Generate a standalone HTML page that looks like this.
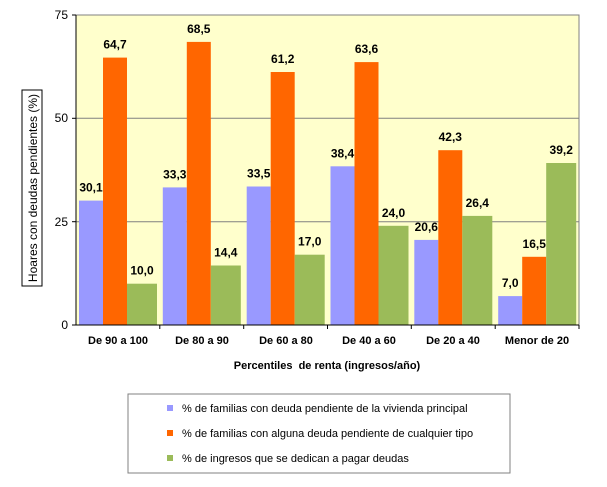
<!DOCTYPE html><html><head><style>body{margin:0;background:#fff;font-family:"Liberation Sans",sans-serif}</style></head><body>
<svg width="607" height="482" xmlns="http://www.w3.org/2000/svg" font-family="Liberation Sans, sans-serif">
<rect x="76" y="15" width="503" height="310" fill="#ffffcc"/>
<line x1="76" y1="118.3" x2="579" y2="118.3" stroke="#808080"/>
<line x1="76" y1="221.7" x2="579" y2="221.7" stroke="#808080"/>
<g>
<rect x="79" y="200.6" width="24" height="124.4" fill="#9999ff"/>
<rect x="103" y="57.6" width="24" height="267.4" fill="#ff6600"/>
<rect x="127" y="283.7" width="30" height="41.3" fill="#9bbb59"/>
<rect x="162.8" y="187.4" width="24" height="137.6" fill="#9999ff"/>
<rect x="186.8" y="41.9" width="24" height="283.1" fill="#ff6600"/>
<rect x="210.8" y="265.5" width="30" height="59.5" fill="#9bbb59"/>
<rect x="246.7" y="186.5" width="24" height="138.5" fill="#9999ff"/>
<rect x="270.7" y="72" width="24" height="253" fill="#ff6600"/>
<rect x="294.7" y="254.7" width="30" height="70.3" fill="#9bbb59"/>
<rect x="330.5" y="166.3" width="24" height="158.7" fill="#9999ff"/>
<rect x="354.5" y="62.1" width="24" height="262.9" fill="#ff6600"/>
<rect x="378.5" y="225.8" width="30" height="99.2" fill="#9bbb59"/>
<rect x="414.3" y="239.9" width="24" height="85.1" fill="#9999ff"/>
<rect x="438.3" y="150.2" width="24" height="174.8" fill="#ff6600"/>
<rect x="462.3" y="215.9" width="30" height="109.1" fill="#9bbb59"/>
<rect x="498.2" y="296.1" width="24" height="28.9" fill="#9999ff"/>
<rect x="522.2" y="256.8" width="24" height="68.2" fill="#ff6600"/>
<rect x="546.2" y="163" width="30" height="162" fill="#9bbb59"/>
</g>
<g font-size="12" font-weight="bold" text-anchor="middle">
<text x="91" y="191.6">30,1</text><text x="115" y="48.6">64,7</text><text x="142" y="274.7">10,0</text>
<text x="174.8" y="178.4">33,3</text><text x="198.8" y="32.9">68,5</text><text x="225.8" y="256.5">14,4</text>
<text x="258.7" y="177.5">33,5</text><text x="282.7" y="63">61,2</text><text x="309.7" y="245.7">17,0</text>
<text x="342.5" y="157.3">38,4</text><text x="366.5" y="53.1">63,6</text><text x="393.5" y="216.8">24,0</text>
<text x="426.3" y="230.9">20,6</text><text x="450.3" y="141.2">42,3</text><text x="477.3" y="206.9">26,4</text>
<text x="510.2" y="287.1">7,0</text><text x="534.2" y="247.8">16,5</text><text x="561.2" y="154">39,2</text>
</g>
<rect x="76" y="15" width="503" height="310" fill="none" stroke="#808080"/>
<line x1="76" y1="15" x2="76" y2="325" stroke="#000"/>
<line x1="72" y1="325" x2="579" y2="325" stroke="#000"/>
<g font-size="12" text-anchor="end" fill="#000">
<text x="68" y="19">75</text><text x="68" y="122">50</text><text x="68" y="226">25</text><text x="68" y="329">0</text></g>
<g stroke="#000"><line x1="72" y1="15" x2="76" y2="15"/><line x1="72" y1="118.3" x2="76" y2="118.3"/><line x1="72" y1="221.7" x2="76" y2="221.7"/>
<line x1="159.8" y1="325" x2="159.8" y2="329"/><line x1="243.7" y1="325" x2="243.7" y2="329"/><line x1="327.5" y1="325" x2="327.5" y2="329"/><line x1="411.3" y1="325" x2="411.3" y2="329"/><line x1="495.2" y1="325" x2="495.2" y2="329"/><line x1="579" y1="325" x2="579" y2="329"/></g>
<g font-size="11" font-weight="bold" text-anchor="middle">
<text x="118" y="344">De 90 a 100</text><text x="202" y="344">De 80 a 90</text><text x="286" y="344">De 60 a 80</text><text x="369" y="344">De 40 a 60</text><text x="453" y="344">De 20 a 40</text><text x="537" y="344">Menor de 20</text>
<text x="327" y="369">Percentiles&#160; de renta (ingresos/año)</text></g>
<rect x="22" y="90" width="20" height="196" fill="#fff" stroke="#000"/>
<text transform="translate(37,188) rotate(-90)" font-size="12" text-anchor="middle">Hoares con deudas pendientes (%)</text>
<rect x="128" y="394" width="382" height="79" fill="#fff" stroke="#808080"/>
<rect x="167" y="405" width="6" height="6" fill="#9999ff"/>
<rect x="167" y="430" width="6" height="6" fill="#ff6600"/>
<rect x="167" y="455" width="6" height="6" fill="#9bbb59"/>
<g font-size="11"><text x="182" y="412">% de familias con deuda pendiente de la vivienda principal</text>
<text x="182" y="437">% de familias con alguna deuda pendiente de cualquier tipo</text>
<text x="182" y="462">% de ingresos que se dedican a pagar deudas</text></g>
</svg></body></html>
